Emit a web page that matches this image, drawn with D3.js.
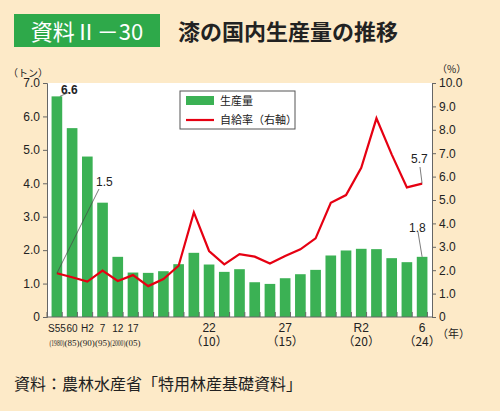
<!DOCTYPE html>
<html><head><meta charset="utf-8">
<script src="https://cdn.jsdelivr.net/npm/d3@7"></script>
<style>body{margin:0;background:#fdeac8;font-family:"Noto Sans CJK JP","Noto Sans",sans-serif}</style>
</head><body>
<svg width="500" height="411"></svg>
<script>
const years = ["1980","1985","1990","1995","2000","2005","2006","2007","2008","2009","2010","2011","2012","2013","2014","2015","2016","2017","2018","2019","2020","2021","2022","2023","2024"]
const production = [6.6,5.65,4.8,3.42,1.8,1.33,1.32,1.37,1.58,1.92,1.57,1.35,1.43,1.04,0.99,1.16,1.28,1.41,1.84,1.99,2.04,2.03,1.76,1.64,1.8]
const selfRate = [1.87,1.7,1.51,1.98,1.54,1.79,1.32,1.62,2.19,4.47,2.82,2.25,2.69,2.58,2.29,2.61,2.89,3.36,4.88,5.21,6.38,8.49,6.95,5.54,5.7]
const leftTicks = [0,1,2,3,4,5,6,7]
const rightTicks = [0,1,2,3,4,5,6,7,8,9,10]
const xLabels = [
  {year:"1980", l1:"S55", l2:"(1980)", small:true},
  {year:"1985", l1:"60", l2:"(85)", small:true},
  {year:"1990", l1:"H2", l2:"(90)", small:true},
  {year:"1995", l1:"7", l2:"(95)", small:true},
  {year:"2000", l1:"12", l2:"(2000)", small:true},
  {year:"2005", l1:"17", l2:"(05)", small:true},
  {year:"2010", l1:"22", l2:"（10）"},
  {year:"2015", l1:"27", l2:"（15）"},
  {year:"2020", l1:"R2", l2:"（20）"},
  {year:"2024", l1:"6", l2:"（24）"}
]

const svg = d3.select("svg")
const pLeft = 47, pRight = 432, pTop = 83, pBottom = 317

// header
svg.append("rect").attr("x", 14).attr("y", 14).attr("width", 146).attr("height", 33).attr("fill", "#2ea94a")
svg.append("text").attr("x", 87).attr("y", 40).attr("text-anchor", "middle").attr("fill", "#fff")
    .style("font-size", "22px").text("資料Ⅱ－30")
svg.append("text").attr("x", 178).attr("y", 40).attr("fill", "#222")
    .style("font-size", "22px").style("font-weight", "bold").text("漆の国内生産量の推移")

svg.append("rect").attr("x", pLeft).attr("y", pTop).attr("width", pRight - pLeft).attr("height", pBottom - pTop).attr("fill", "#fff")

const x = d3.scaleBand().domain(years).range([pLeft, pRight]).padding(0.3)
const yL = d3.scaleLinear().domain([0, 7]).range([pBottom, pTop])
const yR = d3.scaleLinear().domain([0, 10]).range([pBottom, pTop])

// bars
svg.append("g").selectAll("rect").data(production).enter().append("rect")
    .attr("x", (d, i) => x(years[i]))
    .attr("y", d => yL(d))
    .attr("width", x.bandwidth())
    .attr("height", d => pBottom - yL(d))
    .attr("fill", "#3bb154")

// axes
const axL = svg.append("g").attr("transform", `translate(${pLeft},0)`)
    .call(d3.axisLeft(yL).tickValues(leftTicks).tickFormat(d => d === 0 ? "0" : d3.format(".1f")(d)).tickSize(4))
const axR = svg.append("g").attr("transform", `translate(${pRight},0)`)
    .call(d3.axisRight(yR).tickValues(rightTicks).tickFormat(d => d === 0 ? "0" : d3.format(".1f")(d)).tickSize(4))
for (const ax of [axL, axR]) {
    ax.selectAll("path,line").attr("stroke", "#666")
    ax.selectAll("text").style("font-size", "12px").attr("fill", "#222").style("font-family", "Liberation Sans")
}

// x axis
svg.append("line").attr("x1", pLeft).attr("x2", pRight).attr("y1", pBottom).attr("y2", pBottom).attr("stroke", "#666")
const step = x.step()
svg.append("g").selectAll("line").data(d3.range(years.length + 1)).enter().append("line")
    .attr("x1", i => pLeft + i * step).attr("x2", i => pLeft + i * step)
    .attr("y1", pBottom).attr("y2", pBottom - 5).attr("stroke", "#666")

const xl = svg.append("g").selectAll("g").data(xLabels).enter().append("g")
    .attr("transform", d => `translate(${x(d.year) + x.bandwidth() / 2},0)`)
xl.append("text").attr("y", 332).attr("text-anchor", "middle")
    .style("font-size", d => d.small ? "10px" : "12px").style("font-family", "Liberation Sans Narrow,Liberation Sans")
    .attr("fill", "#222").text(d => d.l1)
xl.append("text").attr("y", 346).attr("text-anchor", "middle")
    .style("font-size", d => d.small ? "9px" : "12px").style("font-family", d => d.small ? "Liberation Sans Narrow" : null)
    .attr("textLength", d => d.small ? 15 : null).attr("lengthAdjust", "spacingAndGlyphs")
    .attr("fill", "#222").text(d => d.l2)
svg.append("text").attr("x", 437).attr("y", 338).style("font-size", "11px").attr("fill", "#222").text("（年）")

// units
svg.append("text").attr("x", 8).attr("y", 77).style("font-size", "10px").attr("fill", "#222").text("（トン）")
svg.append("text").attr("x", 437).attr("y", 73).style("font-size", "10px").attr("fill", "#222").text("（%）")

// line
const line = d3.line().x((d, i) => x(years[i]) + x.bandwidth() / 2).y(d => yR(d))
svg.append("path").datum(selfRate).attr("d", line).attr("fill", "none")
    .attr("stroke", "#e60012").attr("stroke-width", 2.2).attr("stroke-linejoin", "miter")

// annotations
const cx = i => x(years[i]) + x.bandwidth() / 2
const last = years.length - 1
function note(x1, y1, x2, y2, tx, ty, t, bold) {
    svg.append("line").attr("x1", x1).attr("y1", y1).attr("x2", x2).attr("y2", y2).attr("stroke", "#444").attr("stroke-width", 0.7)
    svg.append("text").attr("x", tx).attr("y", ty).style("font-size", "12px").style("font-family", "Liberation Sans")
        .style("font-weight", bold ? "bold" : null).attr("fill", "#222").text(t)
}
note(cx(0) + 3, yL(production[0]), cx(0) + 12, yL(production[0]) - 4, 61, 94, "6.6", true)
note(cx(0), yR(selfRate[0]), 99, 189, 96, 186, "1.5")
note(cx(last), yR(selfRate[last]), 420, 167, 411, 163, "5.7")
note(cx(last), yL(production[last]), 418, 232, 409, 232, "1.8")

// legend
svg.append("rect").attr("x", 180).attr("y", 91).attr("width", 115).attr("height", 38).attr("fill", "#fff").attr("stroke", "#555")
svg.append("rect").attr("x", 186).attr("y", 96).attr("width", 28).attr("height", 9).attr("fill", "#3bb154")
svg.append("line").attr("x1", 186).attr("x2", 214).attr("y1", 120).attr("y2", 120).attr("stroke", "#e60012").attr("stroke-width", 2.2)
svg.append("text").attr("x", 220).attr("y", 105).style("font-size", "11px").attr("fill", "#222").text("生産量")
svg.append("text").attr("x", 220).attr("y", 124).style("font-size", "11px").attr("fill", "#222").text("自給率（右軸）")

// source
svg.append("text").attr("x", 14).attr("y", 390).style("font-size", "16px").attr("fill", "#222").text("資料：農林水産省「特用林産基礎資料」")
</script>
</body></html>
